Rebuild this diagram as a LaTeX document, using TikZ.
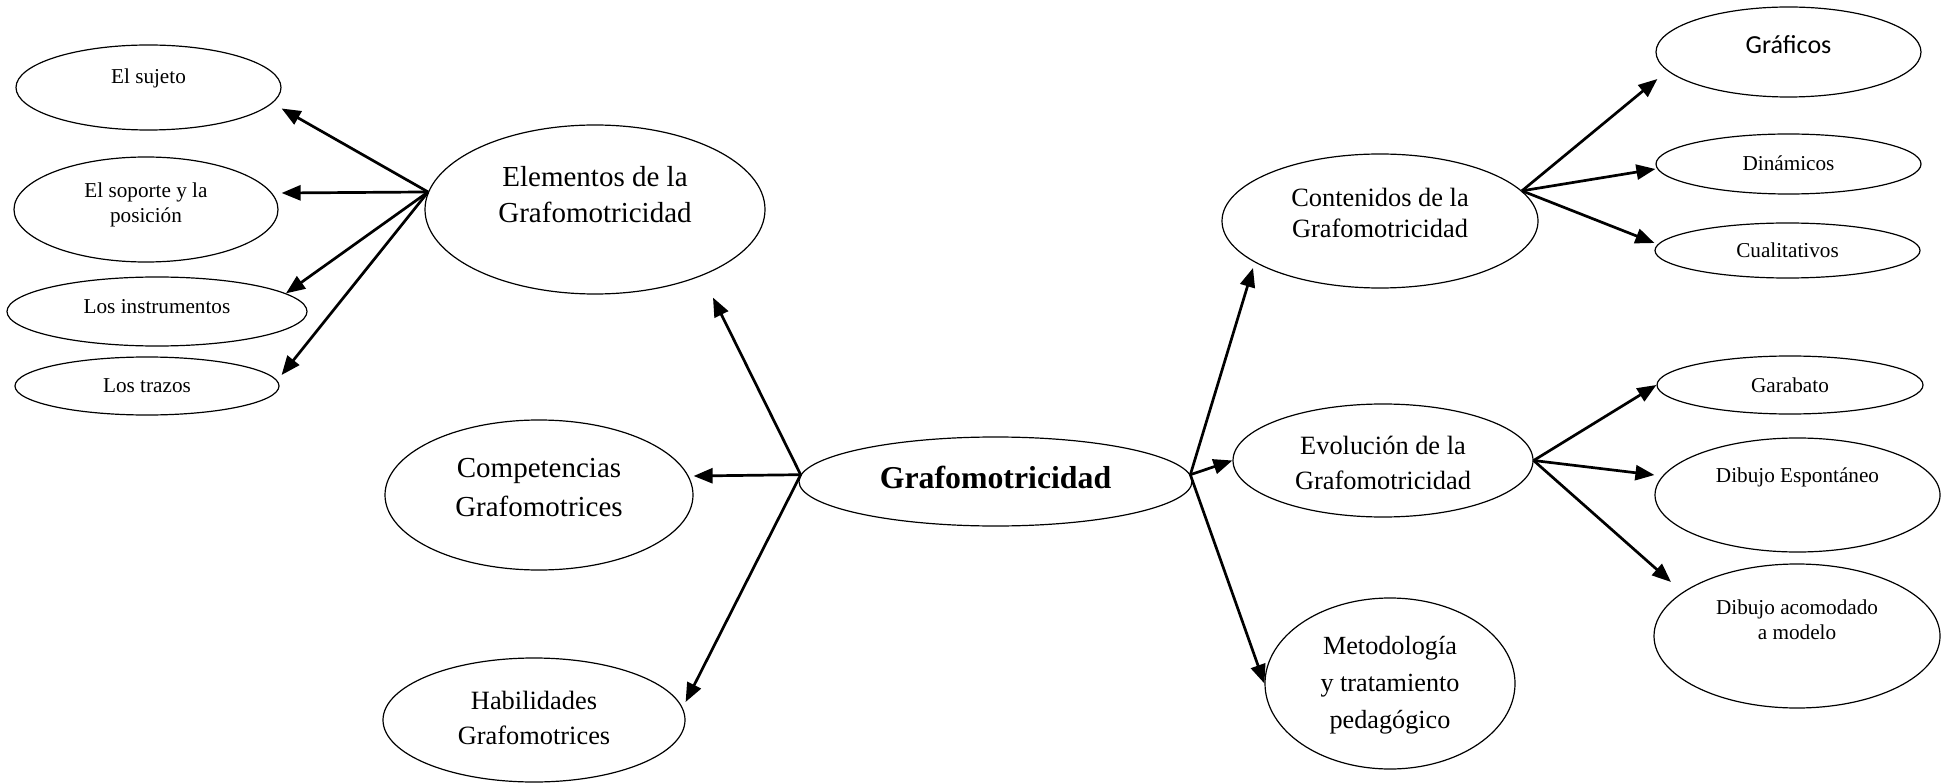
\documentclass[tikz,border=0pt]{standalone}
\usepackage{fontspec}
\setmainfont{Liberation Serif}
\newfontfamily\calibrifont{Carlito}
\usetikzlibrary{shapes.geometric,arrows.meta}

\begin{document}
\begin{tikzpicture}[x = 1pt, y = -1pt]
\tikzstyle{myarrow} = [-{Triangle[length = 19pt, width = 15pt]}, line width = 2.7pt]
\tikzset{bubble/.style 2 args = {ellipse, draw, line width = 1.2pt, minimum width = #1pt, minimum height = #2pt, inner sep = 0pt},
 txt/.style 2 args = {font = \fontsize{#1}{#2}\selectfont, align = center}}
\useasboundingbox (0,0) rectangle (1950,783);

% centro
\node [bubble = {393}{89}, label = {[align = center, font = \bfseries\fontsize{31.8}{38}\selectfont, yshift = 4.5pt]center:{Grafomotricidad}}] (grafo) at (995.5, 481.5) {};

% izquierda
\node [bubble = {340}{169}, label = {[txt = {29}{36}, yshift = 14.5pt]center:{Elementos de la\\Grafomotricidad}}] (elem) at (595, 209.5) {};
\node [bubble = {308}{150}, label = {[txt = {29}{39}, yshift = 7.5pt]center:{Competencias\\Grafomotrices}}] (compet) at (539, 495) {};
\node [bubble = {302}{124}, label = {[txt = {26.4}{35}, yshift = 2.5pt]center:{Habilidades\\Grafomotrices}}] (habil) at (534, 720) {};

\node [bubble = {265}{85}, label = {[txt = {21.2}{25}, yshift = 9pt]center:{El sujeto}}] (sujeto) at (148.5, 87.5) {};
\node [bubble = {264}{105}, label = {[txt = {21.2}{25}, yshift = 5pt]center:{El soporte y la\\posición}}] (soporte) at (146, 209.5) {};
\node [bubble = {300}{69}, label = {[txt = {21.2}{25}, yshift = 4.5pt]center:{Los instrumentos}}] (instr) at (157, 311.5) {};
\node [bubble = {264}{58}, label = {[txt = {21.2}{25}]center:{Los trazos}}] (trazos) at (147, 386) {};

% derecha
\node [bubble = {316}{134}, label = {[txt = {26.4}{31}, yshift = 8.5pt]center:{Contenidos de la\\Grafomotricidad}}] (cont) at (1380, 221) {};
\node [bubble = {300}{113}, label = {[txt = {26.4}{35}, yshift = -2pt]center:{Evolución de la\\Grafomotricidad}}] (evol) at (1383, 460.5) {};
\node [bubble = {250}{171}, label = {[txt = {26.2}{37}, yshift = -1.5pt]center:{Metodología\\y tratamiento\\pedagógico}}] (metod) at (1390, 683.5) {};

\node [bubble = {265}{90}, label = {[align = center, font = \calibrifont\fontsize{26}{32}\selectfont, yshift = 7pt]center:{Gráficos}}] (graf) at (1788.5, 52) {};
\node [bubble = {265}{60}, label = {[txt = {21.2}{25}, yshift = 1pt]center:{Dinámicos}}] (din) at (1788.5, 164) {};
\node [bubble = {265}{55}, label = {[txt = {21.2}{25}]center:{Cualitativos}}] (cual) at (1787.5, 250.5) {};

\node [bubble = {266}{58}, label = {[txt = {21.2}{25}]center:{Garabato}}] (garab) at (1790, 385) {};
\node [bubble = {285}{114}, label = {[txt = {21.2}{25}, yshift = 18pt]center:{Dibujo Espontáneo}}] (esp) at (1797.5, 495) {};
\node [bubble = {286}{144}, label = {[txt = {21.2}{25}, yshift = 16.5pt]center:{Dibujo acomodado\\a modelo}}] (acom) at (1797, 636) {};

% flechas
\draw [myarrow] (grafo.178) -- ([xshift=118pt,yshift=-3pt]elem.south);
\draw [myarrow] (grafo.178) -- ([yshift=19pt]compet.east);
\draw [myarrow] (grafo.178) -- ([yshift=18pt]habil.east);

\draw [myarrow] (elem.174) -- ([yshift=-21pt]sujeto.east);
\draw [myarrow] (elem.174) -- ([xshift=3pt,yshift=16.5pt]soporte.east);
\draw [myarrow] (elem.174) -- (instr.8.5);
\draw [myarrow] (elem.174) -- ([xshift=2pt,yshift=11pt]trazos.east);

\draw [myarrow] (grafo.2) -- ([xshift=-127pt,yshift=-47pt]cont.center);
\draw [myarrow] (grafo.2) -- (evol.west);
\draw [myarrow] (grafo.2) -- (metod.west);

\draw [myarrow] (cont.12) -- ([xshift=2pt,yshift=-27pt]graf.west);
\draw [myarrow] (cont.12) -- ([yshift=-5pt]din.west);
\draw [myarrow] (cont.12) -- ([yshift=7.5pt]cual.west);

\draw [myarrow] (evol.east) -- (garab.west);
\draw [myarrow] (evol.east) -- ([yshift=20pt]esp.west);
\draw [myarrow] (evol.east) -- ([xshift=-126pt,yshift=54pt]acom.center);

\end{tikzpicture}
\end{document}
